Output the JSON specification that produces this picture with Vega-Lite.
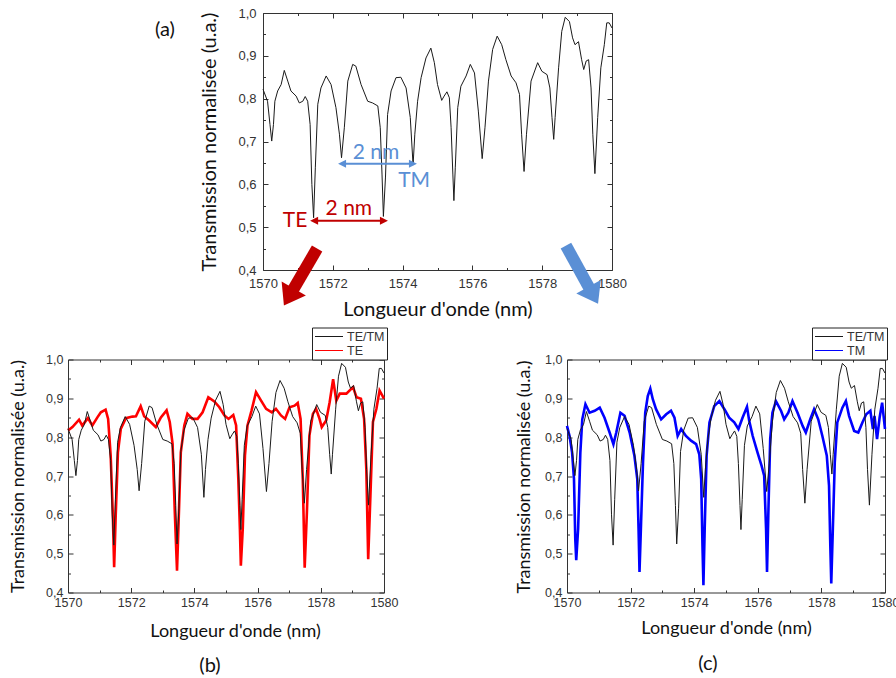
{
  "$schema": "https://vega.github.io/schema/vega-lite/v6.json",
  "padding": {"left": 8, "top": 6, "right": 0, "bottom": 0},
  "autosize": {"type": "pad"},
  "bounds": "full",
  "spacing": 6.5,
  "datasets": {
    "tetm": [
      {"wl":1570.00,"t":0.822},{"wl":1570.13,"t":0.794},{"wl":1570.20,"t":0.74},{"wl":1570.25,"t":0.701},{"wl":1570.30,"t":0.74},{"wl":1570.34,"t":0.794},{"wl":1570.42,"t":0.818},{"wl":1570.52,"t":0.833},{"wl":1570.61,"t":0.866},{"wl":1570.71,"t":0.841},{"wl":1570.80,"t":0.818},{"wl":1570.95,"t":0.806},{"wl":1571.04,"t":0.790},{"wl":1571.14,"t":0.794},{"wl":1571.21,"t":0.805},{"wl":1571.28,"t":0.794},{"wl":1571.35,"t":0.74},{"wl":1571.40,"t":0.60},{"wl":1571.45,"t":0.522},{"wl":1571.50,"t":0.64},{"wl":1571.57,"t":0.787},{"wl":1571.66,"t":0.825},{"wl":1571.81,"t":0.853},{"wl":1571.95,"t":0.833},{"wl":1572.09,"t":0.779},{"wl":1572.19,"t":0.717},{"wl":1572.25,"t":0.662},{"wl":1572.33,"t":0.732},{"wl":1572.43,"t":0.841},{"wl":1572.57,"t":0.880},{"wl":1572.66,"t":0.876},{"wl":1572.81,"t":0.833},{"wl":1573.00,"t":0.794},{"wl":1573.14,"t":0.790},{"wl":1573.29,"t":0.783},{"wl":1573.36,"t":0.732},{"wl":1573.41,"t":0.624},{"wl":1573.45,"t":0.525},{"wl":1573.51,"t":0.617},{"wl":1573.57,"t":0.763},{"wl":1573.67,"t":0.818},{"wl":1573.81,"t":0.849},{"wl":1573.95,"t":0.850},{"wl":1574.10,"t":0.825},{"wl":1574.22,"t":0.756},{"wl":1574.30,"t":0.645},{"wl":1574.35,"t":0.717},{"wl":1574.43,"t":0.794},{"wl":1574.53,"t":0.849},{"wl":1574.67,"t":0.895},{"wl":1574.81,"t":0.918},{"wl":1574.91,"t":0.884},{"wl":1575.00,"t":0.833},{"wl":1575.12,"t":0.796},{"wl":1575.19,"t":0.806},{"wl":1575.27,"t":0.816},{"wl":1575.34,"t":0.802},{"wl":1575.39,"t":0.732},{"wl":1575.44,"t":0.624},{"wl":1575.47,"t":0.562},{"wl":1575.51,"t":0.64},{"wl":1575.58,"t":0.779},{"wl":1575.67,"t":0.829},{"wl":1575.82,"t":0.853},{"wl":1575.94,"t":0.880},{"wl":1576.06,"t":0.860},{"wl":1576.17,"t":0.771},{"wl":1576.28,"t":0.660},{"wl":1576.36,"t":0.732},{"wl":1576.46,"t":0.841},{"wl":1576.58,"t":0.915},{"wl":1576.71,"t":0.946},{"wl":1576.84,"t":0.926},{"wl":1576.96,"t":0.891},{"wl":1577.11,"t":0.853},{"wl":1577.25,"t":0.837},{"wl":1577.35,"t":0.810},{"wl":1577.41,"t":0.717},{"wl":1577.48,"t":0.630},{"wl":1577.55,"t":0.717},{"wl":1577.68,"t":0.841},{"wl":1577.87,"t":0.884},{"wl":1577.99,"t":0.864},{"wl":1578.14,"t":0.856},{"wl":1578.22,"t":0.825},{"wl":1578.28,"t":0.756},{"wl":1578.33,"t":0.705},{"wl":1578.37,"t":0.756},{"wl":1578.47,"t":0.872},{"wl":1578.56,"t":0.957},{"wl":1578.66,"t":0.990},{"wl":1578.78,"t":0.980},{"wl":1578.87,"t":0.942},{"wl":1578.94,"t":0.926},{"wl":1579.04,"t":0.933},{"wl":1579.13,"t":0.891},{"wl":1579.19,"t":0.868},{"wl":1579.26,"t":0.888},{"wl":1579.33,"t":0.891},{"wl":1579.40,"t":0.825},{"wl":1579.45,"t":0.717},{"wl":1579.51,"t":0.625},{"wl":1579.59,"t":0.756},{"wl":1579.68,"t":0.872},{"wl":1579.78,"t":0.926},{"wl":1579.85,"t":0.977},{"wl":1579.92,"t":0.977},{"wl":1580.00,"t":0.965}
    ],
    "te": [
      {"wl":1570.00,"t":0.817},{"wl":1570.14,"t":0.826},{"wl":1570.35,"t":0.845},{"wl":1570.45,"t":0.830},{"wl":1570.63,"t":0.849},{"wl":1570.77,"t":0.830},{"wl":1570.93,"t":0.851},{"wl":1571.04,"t":0.864},{"wl":1571.19,"t":0.871},{"wl":1571.27,"t":0.847},{"wl":1571.35,"t":0.753},{"wl":1571.42,"t":0.598},{"wl":1571.46,"t":0.465},{"wl":1571.51,"t":0.598},{"wl":1571.58,"t":0.761},{"wl":1571.67,"t":0.821},{"wl":1571.83,"t":0.849},{"wl":1572.04,"t":0.853},{"wl":1572.15,"t":0.854},{"wl":1572.30,"t":0.880},{"wl":1572.41,"t":0.854},{"wl":1572.57,"t":0.843},{"wl":1572.78,"t":0.826},{"wl":1572.94,"t":0.851},{"wl":1573.12,"t":0.869},{"wl":1573.22,"t":0.839},{"wl":1573.31,"t":0.783},{"wl":1573.38,"t":0.606},{"wl":1573.45,"t":0.456},{"wl":1573.50,"t":0.581},{"wl":1573.57,"t":0.761},{"wl":1573.68,"t":0.830},{"wl":1573.78,"t":0.860},{"wl":1573.94,"t":0.847},{"wl":1574.10,"t":0.847},{"wl":1574.26,"t":0.864},{"wl":1574.44,"t":0.903},{"wl":1574.63,"t":0.892},{"wl":1574.79,"t":0.877},{"wl":1574.95,"t":0.856},{"wl":1575.08,"t":0.847},{"wl":1575.23,"t":0.857},{"wl":1575.32,"t":0.830},{"wl":1575.39,"t":0.692},{"wl":1575.44,"t":0.563},{"wl":1575.47,"t":0.469},{"wl":1575.53,"t":0.563},{"wl":1575.60,"t":0.753},{"wl":1575.68,"t":0.830},{"wl":1575.81,"t":0.869},{"wl":1575.95,"t":0.916},{"wl":1576.11,"t":0.894},{"wl":1576.27,"t":0.873},{"wl":1576.45,"t":0.864},{"wl":1576.58,"t":0.873},{"wl":1576.74,"t":0.856},{"wl":1576.87,"t":0.847},{"wl":1577.01,"t":0.877},{"wl":1577.17,"t":0.881},{"wl":1577.27,"t":0.888},{"wl":1577.36,"t":0.847},{"wl":1577.43,"t":0.692},{"wl":1577.49,"t":0.464},{"wl":1577.56,"t":0.606},{"wl":1577.64,"t":0.804},{"wl":1577.75,"t":0.860},{"wl":1577.85,"t":0.873},{"wl":1577.96,"t":0.847},{"wl":1578.03,"t":0.826},{"wl":1578.17,"t":0.843},{"wl":1578.28,"t":0.890},{"wl":1578.39,"t":0.949},{"wl":1578.49,"t":0.894},{"wl":1578.60,"t":0.912},{"wl":1578.81,"t":0.912},{"wl":1579.02,"t":0.929},{"wl":1579.13,"t":0.903},{"wl":1579.27,"t":0.899},{"wl":1579.37,"t":0.847},{"wl":1579.44,"t":0.718},{"wl":1579.50,"t":0.486},{"wl":1579.57,"t":0.649},{"wl":1579.65,"t":0.839},{"wl":1579.76,"t":0.873},{"wl":1579.86,"t":0.920},{"wl":1580.00,"t":0.899}
    ],
    "tm": [
      {"wl":1570.00,"t":0.829},{"wl":1570.08,"t":0.803},{"wl":1570.16,"t":0.761},{"wl":1570.22,"t":0.692},{"wl":1570.26,"t":0.538},{"wl":1570.29,"t":0.483},{"wl":1570.35,"t":0.564},{"wl":1570.42,"t":0.761},{"wl":1570.48,"t":0.846},{"wl":1570.58,"t":0.885},{"wl":1570.71,"t":0.863},{"wl":1570.87,"t":0.868},{"wl":1571.03,"t":0.876},{"wl":1571.18,"t":0.850},{"wl":1571.34,"t":0.812},{"wl":1571.46,"t":0.782},{"wl":1571.55,"t":0.812},{"wl":1571.68,"t":0.863},{"wl":1571.81,"t":0.855},{"wl":1571.97,"t":0.812},{"wl":1572.12,"t":0.752},{"wl":1572.21,"t":0.692},{"wl":1572.25,"t":0.564},{"wl":1572.28,"t":0.453},{"wl":1572.33,"t":0.581},{"wl":1572.39,"t":0.735},{"wl":1572.46,"t":0.863},{"wl":1572.54,"t":0.906},{"wl":1572.62,"t":0.925},{"wl":1572.70,"t":0.897},{"wl":1572.80,"t":0.872},{"wl":1572.96,"t":0.846},{"wl":1573.12,"t":0.859},{"wl":1573.27,"t":0.868},{"wl":1573.38,"t":0.850},{"wl":1573.48,"t":0.803},{"wl":1573.59,"t":0.821},{"wl":1573.74,"t":0.803},{"wl":1573.90,"t":0.791},{"wl":1574.06,"t":0.782},{"wl":1574.16,"t":0.756},{"wl":1574.22,"t":0.692},{"wl":1574.26,"t":0.521},{"wl":1574.29,"t":0.419},{"wl":1574.33,"t":0.564},{"wl":1574.39,"t":0.752},{"wl":1574.48,"t":0.838},{"wl":1574.63,"t":0.880},{"wl":1574.79,"t":0.893},{"wl":1574.95,"t":0.872},{"wl":1575.10,"t":0.850},{"wl":1575.26,"t":0.838},{"wl":1575.39,"t":0.821},{"wl":1575.52,"t":0.850},{"wl":1575.66,"t":0.878},{"wl":1575.73,"t":0.842},{"wl":1575.84,"t":0.803},{"wl":1575.99,"t":0.761},{"wl":1576.12,"t":0.726},{"wl":1576.20,"t":0.701},{"wl":1576.26,"t":0.564},{"wl":1576.29,"t":0.453},{"wl":1576.33,"t":0.598},{"wl":1576.39,"t":0.795},{"wl":1576.46,"t":0.863},{"wl":1576.57,"t":0.893},{"wl":1576.73,"t":0.868},{"wl":1576.83,"t":0.846},{"wl":1576.96,"t":0.863},{"wl":1577.09,"t":0.893},{"wl":1577.25,"t":0.863},{"wl":1577.41,"t":0.829},{"wl":1577.51,"t":0.812},{"wl":1577.65,"t":0.846},{"wl":1577.77,"t":0.872},{"wl":1577.90,"t":0.846},{"wl":1578.03,"t":0.803},{"wl":1578.17,"t":0.752},{"wl":1578.24,"t":0.675},{"wl":1578.28,"t":0.521},{"wl":1578.31,"t":0.423},{"wl":1578.36,"t":0.564},{"wl":1578.42,"t":0.735},{"wl":1578.50,"t":0.838},{"wl":1578.66,"t":0.876},{"wl":1578.77,"t":0.893},{"wl":1578.87,"t":0.855},{"wl":1579.03,"t":0.816},{"wl":1579.16,"t":0.812},{"wl":1579.29,"t":0.838},{"wl":1579.41,"t":0.859},{"wl":1579.54,"t":0.868},{"wl":1579.62,"t":0.821},{"wl":1579.67,"t":0.855},{"wl":1579.75,"t":0.795},{"wl":1579.83,"t":0.850},{"wl":1579.91,"t":0.889},{"wl":1580.00,"t":0.821}
    ]
  },
  "vconcat": [
    {
      "spacing": 0,
      "bounds": "flush",
      "hconcat": [
        {
          "width": 195, "height": 257,
          "view": {"stroke": null},
          "data": {"values": []},
          "mark": "point"
        },
        {
          "width": 349, "height": 257,
          "layer": [
            {
              "data": {"name": "tetm"},
              "mark": {"type": "line", "color": "#1a1a1a", "strokeWidth": 1},
              "encoding": {
                "x": {"field": "wl", "type": "quantitative",
                  "scale": {"domain": [1570, 1580], "nice": false, "zero": false},
                  "axis": {"orient": "bottom", "values": [1570,1571,1572,1573,1574,1575,1576,1577,1578,1579,1580],
                    "labelExpr": "datum.value % 2 === 0 ? '' + datum.value : ''",
                    "tickSize": {"condition": {"test": "datum.value % 2 === 0", "value": -5}, "value": -2.5},
                    "labelPadding": 12, "labelFontSize": 13,
                    "title": "Longueur d'onde (nm)", "titleFontSize": 20,
                    "titleX": 174.5, "titleY": 39, "titleBaseline": "middle", "titleAlign": "center"}},
                "y": {"field": "t", "type": "quantitative",
                  "scale": {"domain": [0.4, 1.0], "nice": false, "zero": false},
                  "axis": {"orient": "left", "values": [0.4,0.45,0.5,0.55,0.6,0.65,0.7,0.75,0.8,0.85,0.9,0.95,1.0],
                    "labelExpr": "abs(datum.value * 10 - round(datum.value * 10)) < 0.01 ? replace(format(datum.value, '.1f'), '.', ',') : ''",
                    "tickSize": {"condition": {"test": "abs(datum.value * 10 - round(datum.value * 10)) < 0.01", "value": -5}, "value": -2.5},
                    "labelPadding": 12, "labelFontSize": 13, "labelBaseline": "middle",
                    "title": "Transmission normalisée (u.a.)", "titleFontSize": 20,
                    "titleX": -53.5, "titleY": 128.5, "titleBaseline": "middle", "titleAlign": "center", "titleAngle": -90}}
              }
            },
            {
              "data": {"values": [{"wl": 1571.45, "wl2": 1573.45, "t": 0.515}]},
              "mark": {"type": "rule", "color": "#c00000", "strokeWidth": 2},
              "encoding": {
                "x": {"field": "wl", "type": "quantitative",
                  "axis": {"orient": "top", "values": [1570,1571,1572,1573,1574,1575,1576,1577,1578,1579,1580], "labels": false, "title": null,
                    "tickSize": {"condition": {"test": "datum.value % 2 === 0", "value": -5}, "value": -2.5}}},
                "x2": {"field": "wl2"},
                "y": {"field": "t", "type": "quantitative",
                  "axis": {"orient": "right", "values": [0.4,0.45,0.5,0.55,0.6,0.65,0.7,0.75,0.8,0.85,0.9,0.95,1.0], "labels": false, "title": null,
                    "tickSize": {"condition": {"test": "abs(datum.value * 10 - round(datum.value * 10)) < 0.01", "value": -5}, "value": -2.5}}}
              }
            },
            {
              "data": {"values": [{"wl": 1571.35, "t": 0.515}]},
              "mark": {"type": "point", "shape": "M0,0L2,-1L2,1Z", "size": 64, "filled": true, "color": "#c00000", "opacity": 1},
              "encoding": {"x": {"field": "wl", "type": "quantitative", "axis": null}, "y": {"field": "t", "type": "quantitative", "axis": null}}
            },
            {
              "data": {"values": [{"wl": 1573.58, "t": 0.515}]},
              "mark": {"type": "point", "shape": "M0,0L-2,-1L-2,1Z", "size": 64, "filled": true, "color": "#c00000", "opacity": 1},
              "encoding": {"x": {"field": "wl", "type": "quantitative", "axis": null}, "y": {"field": "t", "type": "quantitative", "axis": null}}
            },
            {
              "data": {"values": [{"wl": 1572.25, "wl2": 1574.30, "t": 0.648}]},
              "mark": {"type": "rule", "color": "#5a8fd5", "strokeWidth": 2},
              "encoding": {"x": {"field": "wl", "type": "quantitative", "axis": null}, "x2": {"field": "wl2"}, "y": {"field": "t", "type": "quantitative", "axis": null}}
            },
            {
              "data": {"values": [{"wl": 1572.15, "t": 0.648}]},
              "mark": {"type": "point", "shape": "M0,0L2,-1L2,1Z", "size": 64, "filled": true, "color": "#5a8fd5", "opacity": 1},
              "encoding": {"x": {"field": "wl", "type": "quantitative", "axis": null}, "y": {"field": "t", "type": "quantitative", "axis": null}}
            },
            {
              "data": {"values": [{"wl": 1574.41, "t": 0.648}]},
              "mark": {"type": "point", "shape": "M0,0L-2,-1L-2,1Z", "size": 64, "filled": true, "color": "#5a8fd5", "opacity": 1},
              "encoding": {"x": {"field": "wl", "type": "quantitative", "axis": null}, "y": {"field": "t", "type": "quantitative", "axis": null}}
            },
            {
              "data": {"values": [{"label": "2 nm", "wl": 1572.46, "t": 0.543}, {"label": "TE", "wl": 1570.92, "t": 0.515}]},
              "mark": {"type": "text", "font": "Lato", "fontSize": 21, "color": "#c00000", "baseline": "middle", "align": "center"},
              "encoding": {"x": {"field": "wl", "type": "quantitative", "axis": null}, "y": {"field": "t", "type": "quantitative", "axis": null}, "text": {"field": "label"}}
            },
            {
              "data": {"values": [{"label": "2 nm", "wl": 1573.24, "t": 0.672}, {"label": "TM", "wl": 1574.33, "t": 0.608}]},
              "mark": {"type": "text", "font": "Lato", "fontSize": 21, "color": "#5a8fd5", "baseline": "middle", "align": "center"},
              "encoding": {"x": {"field": "wl", "type": "quantitative", "axis": null}, "y": {"field": "t", "type": "quantitative", "axis": null}, "text": {"field": "label"}}
            },
            {
              "data": {"values": [{"label": "(a)", "wl": 1567.19, "t": 0.961}]},
              "mark": {"type": "text", "font": "Lato", "fontSize": 20, "color": "#111", "baseline": "middle", "align": "center"},
              "encoding": {"x": {"field": "wl", "type": "quantitative", "axis": null}, "y": {"field": "t", "type": "quantitative", "axis": null}, "text": {"field": "label"}}
            },
            {
              "data": {"values": [{"wl": 1571.55, "t": 0.450, "wl2": 1570.77, "t2": 0.341}]},
              "mark": {"type": "rule", "color": "#c00000", "strokeWidth": 12, "strokeCap": "butt"},
              "encoding": {"x": {"field": "wl", "type": "quantitative", "axis": null}, "x2": {"field": "wl2"}, "y": {"field": "t", "type": "quantitative", "axis": null}, "y2": {"field": "t2"}}
            },
            {
              "data": {"values": [{"wl": 1570.60, "t": 0.317}]},
              "mark": {"type": "point", "shape": "M0,0L-1,-1.4L1,-1.4Z", "size": 784, "angle": 30, "filled": true, "color": "#c00000", "opacity": 1},
              "encoding": {"x": {"field": "wl", "type": "quantitative", "axis": null}, "y": {"field": "t", "type": "quantitative", "axis": null}}
            },
            {
              "data": {"values": [{"wl": 1578.68, "t": 0.457, "wl2": 1579.43, "t2": 0.346}]},
              "mark": {"type": "rule", "color": "#5a8fd5", "strokeWidth": 12, "strokeCap": "butt"},
              "encoding": {"x": {"field": "wl", "type": "quantitative", "axis": null}, "x2": {"field": "wl2"}, "y": {"field": "t", "type": "quantitative", "axis": null}, "y2": {"field": "t2"}}
            },
            {
              "data": {"values": [{"wl": 1579.60, "t": 0.321}]},
              "mark": {"type": "point", "shape": "M0,0L-1,-1.4L1,-1.4Z", "size": 784, "angle": 331, "filled": true, "color": "#5a8fd5", "opacity": 1},
              "encoding": {"x": {"field": "wl", "type": "quantitative", "axis": null}, "y": {"field": "t", "type": "quantitative", "axis": null}}
            }
          ],
          "resolve": {"axis": {"x": "independent", "y": "independent"}}
        }
      ]
    },
    {
      "spacing": 183,
      "bounds": "flush",
      "resolve": {"scale": {"color": "independent"}, "legend": {"color": "independent"}},
      "hconcat": [
        {
          "width": 316, "height": 233,
          "title": {"text": "(b)", "orient": "bottom", "frame": "group", "anchor": "middle", "dx": -16, "offset": 15, "fontSize": 20, "font": "Lato", "fontWeight": "normal", "baseline": "top", "color": "#111"},
          "layer": [
            {
              "data": {"name": "te"},
              "mark": {"type": "line", "strokeWidth": 2.6},
              "encoding": {
                "x": {"field": "wl", "type": "quantitative",
                  "scale": {"domain": [1570, 1580], "nice": false, "zero": false},
                  "axis": {"orient": "top", "values": [1570,1571,1572,1573,1574,1575,1576,1577,1578,1579,1580], "labels": false, "title": null,
                    "tickSize": {"condition": {"test": "datum.value % 2 === 0", "value": -5}, "value": -2.5}}},
                "y": {"field": "t", "type": "quantitative",
                  "scale": {"domain": [0.4, 1.0], "nice": false, "zero": false},
                  "axis": {"orient": "right", "values": [0.4,0.45,0.5,0.55,0.6,0.65,0.7,0.75,0.8,0.85,0.9,0.95,1.0], "labels": false, "title": null,
                    "tickSize": {"condition": {"test": "abs(datum.value * 10 - round(datum.value * 10)) < 0.01", "value": -5}, "value": -2.5}}},
                "color": {"datum": "TE", "type": "nominal",
                  "scale": {"domain": ["TE/TM", "TE"], "range": ["#1a1a1a", "#ff0000"]},
                  "legend": {"orient": "none", "legendX": 244, "legendY": -32, "title": null,
                    "symbolType": "stroke", "symbolSize": 784, "symbolStrokeWidth": 1.2, "clipHeight": 14,
                    "labelFont": "Liberation Sans", "labelFontSize": 12.5, "labelColor": "#333", "labelOffset": 3,
                    "padding": 2, "rowPadding": 0, "strokeColor": "#222", "fillColor": "white"}}
              }
            },
            {
              "data": {"name": "tetm"},
              "mark": {"type": "line", "strokeWidth": 1},
              "encoding": {
                "x": {"field": "wl", "type": "quantitative",
                  "axis": {"orient": "bottom", "values": [1570,1571,1572,1573,1574,1575,1576,1577,1578,1579,1580],
                    "labelExpr": "datum.value % 2 === 0 ? '' + datum.value : ''",
                    "tickSize": {"condition": {"test": "datum.value % 2 === 0", "value": -5}, "value": -2.5},
                    "labelPadding": 9, "labelFontSize": 12.5,
                    "title": "Longueur d'onde (nm)", "titleFontSize": 18,
                    "titleX": 167, "titleY": 39, "titleBaseline": "middle", "titleAlign": "center"}},
                "y": {"field": "t", "type": "quantitative",
                  "axis": {"orient": "left", "values": [0.4,0.45,0.5,0.55,0.6,0.65,0.7,0.75,0.8,0.85,0.9,0.95,1.0],
                    "labelExpr": "abs(datum.value * 10 - round(datum.value * 10)) < 0.01 ? replace(format(datum.value, '.1f'), '.', ',') : ''",
                    "tickSize": {"condition": {"test": "abs(datum.value * 10 - round(datum.value * 10)) < 0.01", "value": -5}, "value": -2.5},
                    "labelPadding": 10, "labelFontSize": 12.5, "labelBaseline": "middle",
                    "title": "Transmission normalisée (u.a.)", "titleFontSize": 18,
                    "titleX": -49.5, "titleY": 116.5, "titleBaseline": "middle", "titleAlign": "center", "titleAngle": -90}},
                "color": {"datum": "TE/TM", "type": "nominal"}
              }
            }
          ],
          "resolve": {"axis": {"x": "independent", "y": "independent"}}
        },
        {
          "width": 318, "height": 233,
          "title": {"text": "(c)", "orient": "bottom", "frame": "group", "anchor": "middle", "dx": -18, "offset": 16, "fontSize": 20, "font": "Lato", "fontWeight": "normal", "baseline": "top", "color": "#111"},
          "layer": [
            {
              "data": {"name": "tm"},
              "mark": {"type": "line", "strokeWidth": 2.6},
              "encoding": {
                "x": {"field": "wl", "type": "quantitative",
                  "scale": {"domain": [1570, 1580], "nice": false, "zero": false},
                  "axis": {"orient": "top", "values": [1570,1571,1572,1573,1574,1575,1576,1577,1578,1579,1580], "labels": false, "title": null,
                    "tickSize": {"condition": {"test": "datum.value % 2 === 0", "value": -5}, "value": -2.5}}},
                "y": {"field": "t", "type": "quantitative",
                  "scale": {"domain": [0.4, 1.0], "nice": false, "zero": false},
                  "axis": {"orient": "right", "values": [0.4,0.45,0.5,0.55,0.6,0.65,0.7,0.75,0.8,0.85,0.9,0.95,1.0], "labels": false, "title": null,
                    "tickSize": {"condition": {"test": "abs(datum.value * 10 - round(datum.value * 10)) < 0.01", "value": -5}, "value": -2.5}}},
                "color": {"datum": "TM", "type": "nominal",
                  "scale": {"domain": ["TE/TM", "TM"], "range": ["#1a1a1a", "#0000ff"]},
                  "legend": {"orient": "none", "legendX": 245, "legendY": -32, "title": null,
                    "symbolType": "stroke", "symbolSize": 784, "symbolStrokeWidth": 1.2, "clipHeight": 14,
                    "labelFont": "Liberation Sans", "labelFontSize": 12.5, "labelColor": "#333", "labelOffset": 3,
                    "padding": 2, "rowPadding": 0, "strokeColor": "#222", "fillColor": "white"}}
              }
            },
            {
              "data": {"name": "tetm"},
              "mark": {"type": "line", "strokeWidth": 1},
              "encoding": {
                "x": {"field": "wl", "type": "quantitative",
                  "axis": {"orient": "bottom", "values": [1570,1571,1572,1573,1574,1575,1576,1577,1578,1579,1580],
                    "labelExpr": "datum.value % 2 === 0 ? '' + datum.value : ''",
                    "tickSize": {"condition": {"test": "datum.value % 2 === 0", "value": -5}, "value": -2.5},
                    "labelPadding": 9, "labelFontSize": 12.5,
                    "title": "Longueur d'onde (nm)", "titleFontSize": 18,
                    "titleX": 159, "titleY": 36, "titleBaseline": "middle", "titleAlign": "center"}},
                "y": {"field": "t", "type": "quantitative",
                  "axis": {"orient": "left", "values": [0.4,0.45,0.5,0.55,0.6,0.65,0.7,0.75,0.8,0.85,0.9,0.95,1.0],
                    "labelExpr": "abs(datum.value * 10 - round(datum.value * 10)) < 0.01 ? replace(format(datum.value, '.1f'), '.', ',') : ''",
                    "tickSize": {"condition": {"test": "abs(datum.value * 10 - round(datum.value * 10)) < 0.01", "value": -5}, "value": -2.5},
                    "labelPadding": 10, "labelFontSize": 12.5, "labelBaseline": "middle",
                    "title": "Transmission normalisée (u.a.)", "titleFontSize": 18,
                    "titleX": -42.5, "titleY": 117, "titleBaseline": "middle", "titleAlign": "center", "titleAngle": -90}},
                "color": {"datum": "TE/TM", "type": "nominal"}
              }
            }
          ],
          "resolve": {"axis": {"x": "independent", "y": "independent"}}
        }
      ]
    }
  ],
  "config": {
    "view": {"stroke": "#333", "strokeWidth": 1},
    "font": "Lato",
    "legend": {"strokeColor": "#222", "strokeWidth": 1, "fillColor": "#ffffff"},
    "axis": {"grid": false, "domain": false, "labelFont": "Liberation Sans", "labelColor": "#333",
      "titleFont": "Lato", "titleFontWeight": "normal", "titleColor": "#111", "tickColor": "#333",
      "labelOverlap": false, "labelFlush": false}
  }
}
